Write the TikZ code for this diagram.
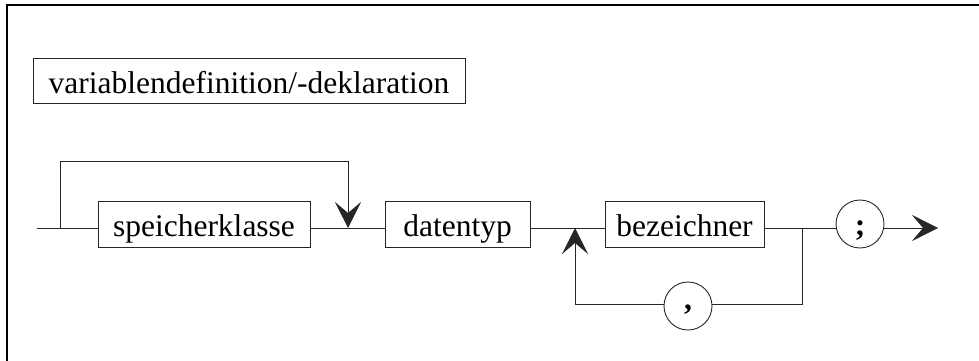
\documentclass[tikz,border=0pt]{standalone}
\usepackage{fontspec}
\setmainfont{Liberation Serif}
\usetikzlibrary{arrows.meta}
\begin{document}
\begin{tikzpicture}[x=1pt,y=-1pt,
  conn/.style={line width=0.9pt,draw=black!85},
  arr/.style={conn,-{Stealth[length=26pt,width=26pt,inset=11pt]}},
  boxnode/.style={draw=black!85,line width=0.9pt,rectangle,inner sep=0pt,minimum height=46pt,
     text height=31pt,text depth=7pt,font=\fontsize{31.5pt}{36pt}\selectfont},
  termnode/.style={draw=black!85,line width=0.9pt,circle,inner sep=0pt,minimum size=48pt,
     font=\fontsize{31.5pt}{36pt}\selectfont\bfseries}]
\useasboundingbox (0,0) rectangle (979,361);
\draw[line width=1.3pt] (979,5) -- (7,5) -- (7,361);
\node[boxnode,minimum width=432pt,minimum height=45pt,text height=31pt,text depth=6pt] (title) at (249,80.5) {variablendefinition/-deklaration};
\node[boxnode,minimum width=212pt] (sp) at (204,224) {speicherklasse};
\node[boxnode,minimum width=145pt] (dt) at (457.5,224) {datentyp};
\node[boxnode,minimum width=159pt] (bz) at (684.5,224) {bezeichner};
\node[termnode,text height=26pt,text depth=4pt] (sc) at (860,224) {;};
\node[termnode,text height=10pt,text depth=4pt] (cm) at (688,306) {,};
\coordinate (start) at (37,228);
\coordinate (b1) at (60,228);
\coordinate (t1) at (348,161);
\coordinate (j1) at (348,228);
\coordinate (j2) at (575,228);
\coordinate (b2) at (802,228);
\coordinate (br) at (802,304);
\coordinate (bl) at (575,304);
\coordinate (end) at (938,228);
\draw[conn] (start) -- (sp.west |- start);
\draw[arr] (b1) |- (t1) -- (j1);
\draw[conn] (sp.east |- start) -- (dt.west |- start);
\draw[conn] (dt.east |- start) -- (bz.west |- start);
\draw[conn] (bz.east |- start) -- (sc.west |- start);
\draw[conn] (b2) -- (br) -- (cm.east |- br);
\draw[arr] (cm.west |- br) -- (bl) -- (j2);
\draw[arr] (sc.east |- start) -- (end);
\end{tikzpicture}
\end{document}
